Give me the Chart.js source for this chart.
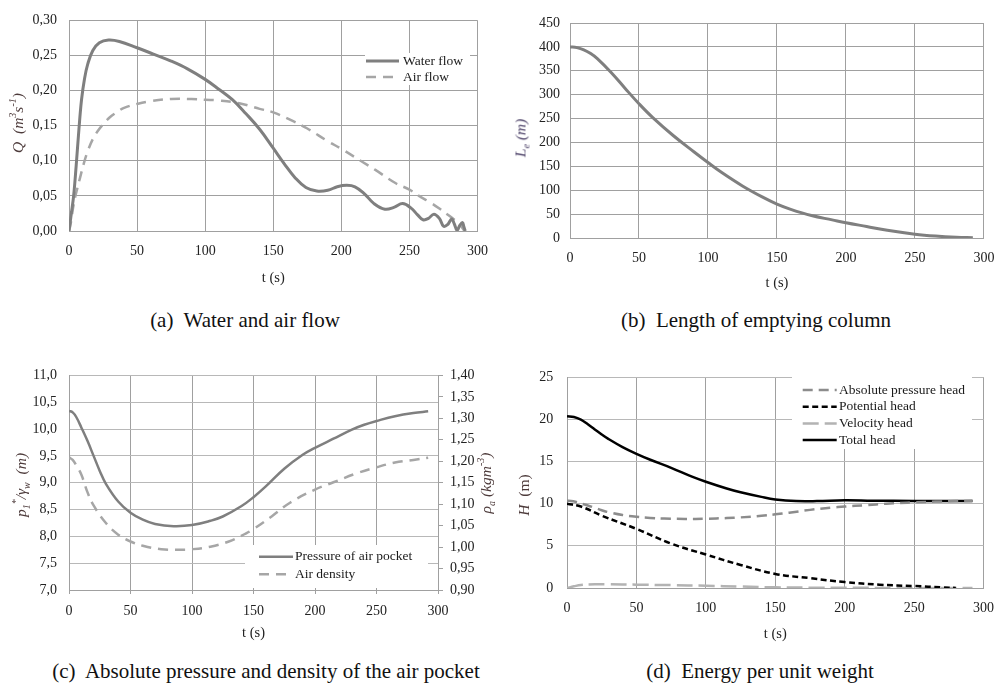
<!DOCTYPE html>
<html><head><meta charset="utf-8">
<script src="https://cdn.jsdelivr.net/npm/chart.js@4.4.0/dist/chart.umd.min.js"></script>
<style>
body{margin:0;background:#fff;}
#page{position:relative;width:1006px;height:687px;overflow:hidden;background:#fff;font-family:"Liberation Serif","Times New Roman",serif;}
canvas{position:absolute;}
.cap{position:absolute;font-size:21px;line-height:21px;white-space:nowrap;transform:translate(-50%,-50%);color:#111;}
.yt{position:absolute;font-size:15.5px;line-height:15px;white-space:nowrap;transform:translate(-50%,-50%) rotate(-90deg);color:#4d3b3b;font-style:italic;}
.yt sub,.yt sup{font-size:10px;line-height:0;}
</style></head>
<body><div id="page">
<canvas id="cA" width="500" height="300" style="left:0;top:0;width:500px;height:300px"></canvas>
<canvas id="cB" width="506" height="300" style="left:500px;top:0;width:506px;height:300px"></canvas>
<canvas id="cC" width="500" height="300" style="left:0;top:355px;width:500px;height:300px"></canvas>
<canvas id="cD" width="506" height="300" style="left:500px;top:355px;width:506px;height:300px"></canvas>

<div class="yt" style="left:17px;top:123px">Q&nbsp;&nbsp;(m<sup>3</sup>s<sup>-1</sup>)</div>
<div class="yt" style="left:520px;top:138px;color:#4a3f66">L<sub>e</sub> (m)</div>
<div class="yt" style="left:20px;top:485px">p<sub>1</sub><sup>*</sup>/γ<sub>w</sub>&nbsp;&nbsp;(m)</div>
<div class="yt" style="left:485px;top:483px">ρ<sub>a</sub> (kgm<sup>-3</sup>)</div>
<div class="yt" style="left:523px;top:495px">H&nbsp;&nbsp;<span style="font-style:normal">(m)</span></div>

<div class="cap" style="left:245px;top:320px">(a)&nbsp; Water and air flow</div>
<div class="cap" style="left:756px;top:320px">(b)&nbsp; Length of emptying column</div>
<div class="cap" style="left:266px;top:671px">(c)&nbsp; Absolute pressure and density of the air pocket</div>
<div class="cap" style="left:760px;top:671px">(d)&nbsp; Energy per unit weight</div>
</div>
<script>
// ---------- DATA ----------
const xTicks = [0, 50, 100, 150, 200, 250, 300];

// (a) Water and air flow, Q (m3/s)
const waterT = [0, 1.7, 3.4, 5.3, 7.3, 9.2, 11.4, 13.8, 17.5, 22.3, 29, 37, 50, 62, 75, 87, 100, 110, 120, 130, 140, 150, 158, 166, 174, 182, 190, 197, 204, 210, 217, 224, 232, 239, 245, 251, 256, 260, 264, 268, 272, 275, 278, 281, 283, 285, 287, 289, 290, 291];
const waterQ = [0, 0.025, 0.05, 0.094, 0.145, 0.187, 0.217, 0.238, 0.257, 0.268, 0.272, 0.270, 0.261, 0.252, 0.242, 0.231, 0.216, 0.202, 0.187, 0.167, 0.145, 0.118, 0.096, 0.076, 0.062, 0.057, 0.058, 0.063, 0.065, 0.063, 0.053, 0.039, 0.031, 0.034, 0.039, 0.033, 0.023, 0.016, 0.018, 0.024, 0.018, 0.007, 0.009, 0.017, 0.010, 0.001, 0.008, 0.012, 0.006, 0];
const airT = [0, 1, 2, 3, 4.5, 6, 8, 11, 14, 17.5, 21, 25, 30, 35, 40, 50, 60, 75, 90, 100, 110, 125, 140, 150, 165, 175, 190, 200, 215, 225, 240, 250, 257, 265, 272, 279, 283, 286, 289, 290.5];
const airQ = [0, 0.008, 0.02, 0.033, 0.048, 0.06, 0.075, 0.097, 0.115, 0.131, 0.142, 0.152, 0.162, 0.169, 0.175, 0.181, 0.185, 0.188, 0.188, 0.187, 0.186, 0.182, 0.174, 0.169, 0.156, 0.146, 0.128, 0.117, 0.099, 0.087, 0.068, 0.059, 0.050, 0.041, 0.032, 0.022, 0.016, 0.011, 0.004, 0];

// (b) Length of emptying column, Le (m)
const lenT = [0, 5, 10, 15, 20, 30, 40, 50, 60, 75, 90, 100, 110, 125, 140, 150, 160, 175, 190, 200, 215, 230, 250, 265, 280, 292];
const lenL = [400, 398.5, 394, 386, 375, 346, 313, 281, 252, 214, 180, 158, 137, 109, 85, 71, 60, 47, 38, 32, 24, 16, 8, 4, 1.5, 0.5];

// (c) Absolute pressure (m) and air density (kg/m3)
const presT = [0, 3, 6, 10, 15, 20, 25, 30, 40, 50, 60, 70, 85, 100, 115, 125, 140, 150, 160, 175, 190, 200, 215, 230, 240, 250, 265, 280, 292];
const presP = [10.34, 10.31, 10.22, 10.03, 9.78, 9.5, 9.22, 8.98, 8.65, 8.44, 8.31, 8.23, 8.19, 8.21, 8.29, 8.37, 8.56, 8.73, 8.93, 9.26, 9.52, 9.65, 9.82, 9.99, 10.08, 10.15, 10.24, 10.30, 10.33];
const densT = [0, 3, 6, 10, 15, 20, 30, 40, 50, 60, 75, 90, 100, 115, 130, 140, 150, 165, 180, 200, 215, 235, 250, 265, 280, 292];
const densRho = [1.209, 1.203, 1.19, 1.169, 1.128, 1.097, 1.056, 1.029, 1.013, 1.003, 0.995, 0.994, 0.995, 1.001, 1.013, 1.026, 1.042, 1.072, 1.104, 1.134, 1.151, 1.173, 1.186, 1.197, 1.203, 1.208];

// (d) Energy per unit weight, H (m)
const totalT = [0, 5, 10, 15, 20, 25, 30, 40, 50, 60, 75, 90, 100, 115, 125, 140, 150, 165, 180, 200, 220, 250, 292];
const totalH = [20.37, 20.27, 19.95, 19.4, 18.8, 18.2, 17.65, 16.7, 15.9, 15.2, 14.25, 13.2, 12.6, 11.8, 11.35, 10.8, 10.5, 10.3, 10.3, 10.4, 10.35, 10.32, 10.32];
const potT = [0, 10, 25, 50, 75, 100, 125, 150, 175, 200, 225, 250, 270, 280];
const potH = [10.0, 9.66, 8.57, 7.01, 5.26, 3.97, 2.73, 1.67, 1.17, 0.70, 0.39, 0.23, 0.08, 0.0];
const velT = [0, 5, 10, 20, 30, 50, 75, 100, 125, 150, 175, 200, 250, 292];
const velH = [0, 0.2, 0.36, 0.44, 0.45, 0.40, 0.34, 0.27, 0.17, 0.08, 0.04, 0.02, 0.01, 0];

// ---------- HELPERS ----------
Chart.defaults.font.family = '"Liberation Serif", "Times New Roman", serif';
Chart.defaults.font.size = 14;
Chart.defaults.color = '#222';
Chart.defaults.animation = false;

const pts = (t, v) => t.map((x, i) => ({x: x, y: v[i]}));
const GRID = '#a0a0a0';
const TXT = '#222';
const fmt = d => (v => Number(v).toFixed(d).replace('.', ','));

function xScale(o) {
  return {
    type: 'linear', min: 0, max: 300,
    afterBuildTicks: s => { s.ticks = xTicks.map(v => ({value: v})); },
    ticks: {padding: o.pad, color: TXT, font: {size: 14}},
    grid: {color: GRID, drawTicks: !!o.tl, tickLength: o.tl || 0},
    border: {color: GRID},
    title: {display: true, text: 't (s)', color: TXT, font: {size: 14.5}, padding: {top: 0, bottom: o.tpad}},
    afterFit: s => { s.height = o.h; }
  };
}
function yScale(o) {
  return {
    type: 'linear', position: o.pos || 'left', min: o.min, max: o.max,
    ticks: {stepSize: o.step, padding: o.pad, callback: o.fmt, color: TXT, font: {size: 14}},
    grid: {color: o.gc || GRID, drawTicks: !!o.tl, tickLength: o.tl || 0, drawOnChartArea: o.grid !== false},
    border: {color: GRID},
    afterFit: s => { s.width = o.w; }
  };
}
function ds(label, t, v, color, width, dash, axis) {
  const d = {label, data: pts(t, v), borderColor: color, borderWidth: width, borderDash: dash || [],
    pointRadius: 0, fill: false, tension: 0.4, borderCapStyle: 'butt', borderJoinStyle: 'round'};
  if (axis) d.yAxisID = axis;
  return d;
}
function boxLegend(o) {
  return {
    id: 'boxLegend',
    beforeDatasetsDraw(chart) {
      const c = chart.ctx; c.save(); c.fillStyle = '#fff'; c.fillRect(o.x, o.y, o.w, o.h); c.restore();
    },
    afterDatasetsDraw(chart) {
      const c = chart.ctx; c.save();
      chart.data.datasets.forEach((d, i) => {
        const y = o.rowY + i * o.rowH;
        c.strokeStyle = d.borderColor; c.lineWidth = d.borderWidth; c.setLineDash(d.borderDash || []);
        c.beginPath(); c.moveTo(o.lx0, y); c.lineTo(o.lx1, y); c.stroke();
        c.setLineDash([]);
        c.fillStyle = '#1a1a1a'; c.font = '13.5px "Liberation Serif", serif'; c.textBaseline = 'middle';
        c.fillText(d.label, o.tx, y);
      });
      c.restore();
    }
  };
}
function make(id, datasets, scales, padding, legend) {
  new Chart(document.getElementById(id), {
    type: 'line',
    data: {datasets},
    options: {
      responsive: false, animation: false, events: [],
      layout: {padding},
      plugins: {legend: {display: false}, tooltip: {enabled: false}},
      scales
    },
    plugins: legend ? [boxLegend(legend)] : []
  });
}

// (a)
make('cA', [
  ds('Water flow', waterT, waterQ, '#7f7f7f', 3),
  ds('Air flow', airT, airQ, '#a6a6a6', 2.5, [10, 7])
], {
  x: xScale({pad: 12, h: 69, tpad: 13.6}),
  y: yScale({min: 0, max: 0.30, step: 0.05, pad: 12, w: 69, fmt: fmt(2)})
}, {left: 0, top: 16, right: 18, bottom: 0},
{x: 365, y: 53, w: 105, h: 32, lx0: 366, lx1: 399, tx: 403, rowY: 61, rowH: 16});

// (b)
make('cB', [
  ds('Le', lenT, lenL, '#7f7f7f', 3)
], {
  x: xScale({pad: 11.6, h: 62, tpad: 7.9}),
  y: yScale({min: 0, max: 450, step: 50, pad: 10, w: 70, fmt: fmt(0)})
}, {left: 0, top: 23, right: 17, bottom: 0});

// (c)
make('cC', [
  ds('Pressure of air pocket', presT, presP, '#7f7f7f', 2.5),
  ds('Air density', densT, densRho, '#a6a6a6', 2.5, [10, 7], 'y2')
], {
  x: xScale({pad: 8.9, h: 65, tpad: 13.6, tl: 4}),
  y: yScale({min: 7, max: 11, step: 0.5, pad: 12, w: 69, fmt: fmt(1), gc: '#b8b8b8'}),
  y2: yScale({pos: 'right', min: 0.9, max: 1.4, step: 0.05, pad: 7, w: 62, fmt: fmt(2), grid: false, tl: 5})
}, {left: 0, top: 15, right: 0, bottom: 0},
{x: 245, y: 190, w: 183, h: 43, lx0: 259, lx1: 293, tx: 295, rowY: 201.7, rowH: 17.6});

// (d)
make('cD', [
  ds('Absolute pressure head', presT, presP, '#8c8c8c', 2.5, [10, 6]),
  ds('Potential head', potT, potH, '#000000', 2.5, [6, 3.5]),
  ds('Velocity head', velT, velH, '#b3b3b3', 2.5, [16, 6]),
  ds('Total head', totalT, totalH, '#000000', 2.5)
], {
  x: xScale({pad: 11.9, h: 67, tpad: 12.4}),
  y: yScale({min: 0, max: 25, step: 5, pad: 13.7, w: 67, fmt: fmt(0), gc: '#b8b8b8'})
}, {left: 0, top: 19, right: 21, bottom: 0},
{x: 292, y: 21, w: 180, h: 73, lx0: 302.7, lx1: 336.7, tx: 339, rowY: 35, rowH: 16.7});
</script>
</body></html>
